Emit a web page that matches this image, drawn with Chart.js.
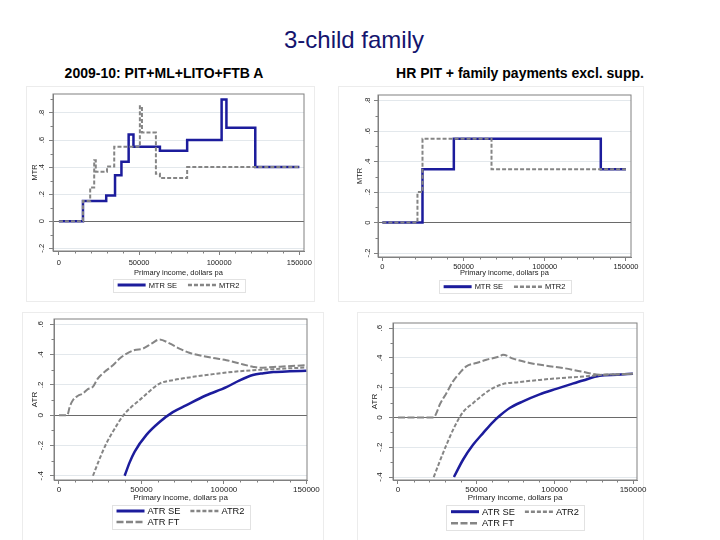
<!DOCTYPE html>
<html>
<head>
<meta charset="utf-8">
<script src="https://cdn.jsdelivr.net/npm/chart.js@4.4.0/dist/chart.umd.min.js"></script>
<style>
  body { margin: 0; background: #fff; font-family: "Liberation Sans", Arial, sans-serif; }
  #page { position: relative; width: 720px; height: 540px; overflow: hidden; background: #fff; }
  .frame { position: absolute; border: 1px solid #ececec; }
  canvas { position: absolute; }
  #title { position: absolute; left: 0; width: 708px; top: 26px; line-height: 28px; text-align: center; font-size: 24px; color: #14146e; }
  .sub { position: absolute; top: 65px; line-height: 16px; font-size: 14px; font-weight: bold; color: #000; text-align: center; width: 320px; }
</style>
</head>
<body>
<div id="page">
  <div id="title">3-child family</div>
  <div class="sub" style="left:4px">2009-10: PIT+ML+LITO+FTB A</div>
  <div class="sub" style="left:360px">HR PIT + family payments excl. supp.</div>
  <div class="frame" style="left:26px;top:86px;width:287px;height:214px"></div>
  <div class="frame" style="left:338px;top:86px;width:304px;height:214px"></div>
  <div class="frame" style="left:22px;top:312px;width:300px;height:230px"></div>
  <div class="frame" style="left:357px;top:312px;width:285px;height:230px"></div>
  <canvas id="mtrA" width="294" height="216" style="left:20px;top:84px"></canvas>
  <canvas id="mtrB" width="304" height="216" style="left:338px;top:84px"></canvas>
  <canvas id="atrA" width="300" height="232" style="left:22px;top:308px"></canvas>
  <canvas id="atrB" width="292" height="232" style="left:355px;top:308px"></canvas>
</div>
<script>
// ---- data: 2009-10 system (left column) ----
// step levels: each rate applies from its income up to the next income
const mtrSeIncomeA = [0, 15000, 29500, 35000, 39000, 43500, 46500, 63000, 80000, 101500, 104500, 122500, 150000];
const mtrSeA = [0, 0.15, 0.19, 0.34, 0.44, 0.64, 0.55, 0.52, 0.60, 0.90, 0.69, 0.40, 0.40];
const mtr2IncomeA = [0, 15000, 19500, 22000, 23000, 30000, 34500, 50500, 51800, 60500, 63000, 80000, 150000];
const mtr2A = [0, 0.15, 0.25, 0.45, 0.365, 0.405, 0.55, 0.85, 0.655, 0.35, 0.32, 0.40, 0.40];

const atrSeIncomeA = [39800, 42900, 45900, 53000, 61000, 69000, 77000, 89000, 101500, 109500, 117500, 124000, 130000, 140000, 150000];
const atrSeA = [-0.40, -0.31, -0.24, -0.13, -0.045, 0.02, 0.065, 0.13, 0.185, 0.23, 0.265, 0.277, 0.285, 0.29, 0.293];
const atr2IncomeA = [20600, 24700, 28700, 33800, 38800, 43900, 48900, 54000, 61000, 69000, 81300, 93400, 105500, 117700, 129800, 150000];
const atr2A = [-0.40, -0.286, -0.187, -0.088, -0.004, 0.055, 0.10, 0.15, 0.209, 0.231, 0.253, 0.271, 0.286, 0.297, 0.304, 0.315];
const atrFtIncomeA = [0, 5000, 6500, 8500, 11500, 14500, 17500, 20500, 23500, 27700, 32700, 36800, 40800, 45900, 51000, 56000, 61000,
  67000, 73000, 79000, 85000, 93000, 101500, 109500, 117500, 121500, 130000, 138000, 150000];
const atrFtA = [0, 0, 0.055, 0.10, 0.128, 0.143, 0.172, 0.187, 0.242, 0.286, 0.33, 0.374, 0.405, 0.43, 0.44, 0.472, 0.50,
  0.474, 0.44, 0.412, 0.396, 0.379, 0.363, 0.341, 0.32, 0.313, 0.318, 0.323, 0.33];

// ---- data: HR PIT + family payments (right column) ----
const mtrSeIncomeB = [0, 24700, 44000, 134500, 150000];
const mtrSeB = [0, 0.35, 0.55, 0.35, 0.35];
const mtr2IncomeB = [0, 21600, 24700, 67200, 150000];
const mtr2B = [0, 0.2, 0.55, 0.35, 0.35];

const atrSeIncomeB = [35700, 41500, 47900, 54300, 60600, 64900, 71300, 79800, 90400, 101000, 110000, 118000, 128700, 140000, 150000];
const atrSeB = [-0.40, -0.284, -0.184, -0.105, -0.031, 0.011, 0.063, 0.108, 0.155, 0.192, 0.222, 0.248, 0.28, 0.287, 0.293];
const atr2IncomeB = [22800, 26600, 30900, 36200, 41500, 47900, 54300, 60600, 67000, 77600, 90400, 101000, 111700, 124500, 128700, 150000];
const atr2B = [-0.40, -0.296, -0.184, -0.06, 0.036, 0.096, 0.152, 0.197, 0.224, 0.238, 0.252, 0.262, 0.27, 0.28, 0.285, 0.293];
const atrFtIncomeB = [0, 22800, 24500, 26600, 30900, 35100, 39400, 43600, 50000, 56400, 64900, 67000, 73400, 84000, 94000,
  105300, 117000, 128700, 140000, 150000];
const atrFtB = [0, 0, 0.029, 0.085, 0.163, 0.242, 0.298, 0.343, 0.365, 0.387, 0.41, 0.421, 0.395, 0.366, 0.348,
  0.332, 0.308, 0.287, 0.289, 0.293];

const xTicks = [0, 50000, 100000, 150000];

const BLUE = '#1c1c9c';
const GREY = '#858585';
Chart.defaults.font.family = '"Liberation Sans", Arial, sans-serif';
Chart.defaults.color = '#222';

const pts = (xs, ys) => xs.map((x, i) => ({ x: x, y: ys[i] }));
const fmtRate = v => Math.abs(v) < 1e-9 ? '0' : (v < 0 ? '-' : '') + Math.abs(v).toFixed(1).replace(/^0/, '');

// plot region outline + minor ticks, Stata style
const stataFrame = {
  id: 'stataFrame',
  afterDraw(chart) {
    const { ctx, chartArea: a, scales: { x, y } } = chart;
    ctx.save();
    ctx.strokeStyle = '#808080';
    ctx.lineWidth = 1;
    ctx.strokeRect(a.left, a.top, a.right - a.left, a.bottom - a.top);
    ctx.beginPath();
    for (let v = 10000; v < 150000; v += 10000) {
      if (v % 50000 === 0) continue;
      const px = Math.round(x.getPixelForValue(v)) + 0.5;
      ctx.moveTo(px, a.bottom);
      ctx.lineTo(px, a.bottom + 2.5);
    }
    for (let k = Math.ceil(y.min * 10); k <= Math.floor(y.max * 10); k++) {
      if (k % 2 === 0) continue;
      const py = Math.round(y.getPixelForValue(k / 10)) + 0.5;
      ctx.moveTo(a.left, py);
      ctx.lineTo(a.left - 2.5, py);
    }
    ctx.stroke();
    ctx.restore();
  }
};

// boxed legend drawn under the x axis title
const boxLegend = {
  id: 'boxLegend',
  afterDraw(chart, args, o) {
    const { ctx, chartArea: a } = chart;
    const ds = chart.data.datasets;
    ctx.save();
    ctx.font = o.size + 'px "Liberation Sans", Arial, sans-serif';
    ctx.textBaseline = 'middle';
    const itemW = i => o.line + 3 + ctx.measureText(ds[i].label).width;
    const nCols = Math.max(...o.rows.map(r => r.length));
    const colW = [];
    for (let c = 0; c < nCols; c++) {
      colW[c] = Math.max(...o.rows.filter(r => r[c] !== undefined).map(r => itemW(r[c])));
    }
    const total = colW.reduce((s, w) => s + w, 0) + o.gap * (nCols - 1);
    const x0 = (a.left + a.right) / 2 - total / 2;
    const y0 = a.bottom + o.offset;
    ctx.strokeStyle = '#e2e2e2';
    ctx.lineWidth = 1;
    ctx.strokeRect(Math.round(x0 - 5) + 0.5, Math.round(y0 - 6.5) + 0.5, Math.round(total + 10), Math.round((o.rows.length - 1) * o.rowGap + 13));
    o.rows.forEach((r, ri) => {
      let x = x0;
      const y = y0 + ri * o.rowGap;
      r.forEach((i, c) => {
        const d = ds[i];
        ctx.strokeStyle = d.borderColor;
        ctx.lineWidth = d.borderWidth + 0.5;
        ctx.setLineDash(d.borderDash || []);
        ctx.beginPath();
        ctx.moveTo(x, y);
        ctx.lineTo(x + o.line, y);
        ctx.stroke();
        ctx.setLineDash([]);
        ctx.fillStyle = '#111';
        ctx.fillText(d.label, x + o.line + 3, y + 0.5);
        x += colW[c] + o.gap;
      });
    });
    ctx.restore();
  }
};

function makeChart(id, datasets, p) {
  return new Chart(document.getElementById(id), {
    type: 'line',
    data: { datasets: datasets },
    plugins: [stataFrame, boxLegend],
    options: {
      responsive: false,
      animation: false,
      events: [],
      layout: { padding: p.pad },
      elements: { point: { radius: 0 } },
      plugins: {
        legend: { display: false },
        tooltip: { enabled: false },
        boxLegend: p.legend
      },
      scales: {
        x: {
          type: 'linear',
          min: p.xMin,
          max: p.xMax,
          afterFit: s => { s.height = p.xH; s.paddingLeft = 0; s.paddingRight = 0; },
          afterBuildTicks: s => { s.ticks = xTicks.map(v => ({ value: v })); },
          border: { color: '#808080' },
          grid: { drawOnChartArea: false, drawTicks: true, tickLength: 4, tickColor: '#808080' },
          ticks: { font: { size: p.tick }, padding: p.xTickPad, maxRotation: 0, autoSkip: false, callback: v => String(v) },
          title: { display: true, text: 'Primary income, dollars pa', font: { size: p.titleSize }, padding: { top: 0, bottom: 0 } }
        },
        y: {
          min: p.yMin,
          max: p.yMax,
          afterFit: s => { s.width = p.yW; s.paddingTop = 0; s.paddingBottom = 0; },
          border: { color: '#808080' },
          grid: {
            color: c => (c.tick && Math.abs(c.tick.value) < 1e-9) ? '#6a6a6a' : '#e3e8ec',
            tickColor: '#808080',
            tickLength: 4
          },
          ticks: {
            stepSize: 0.2, includeBounds: false, autoSkip: false,
            minRotation: 90, maxRotation: 90, crossAlign: 'center',
            font: { size: p.tick }, padding: p.yTickPad, callback: fmtRate
          },
          title: { display: true, text: p.yTitle, font: { size: p.titleSize }, padding: { top: p.yTitlePad, bottom: 0 } }
        }
      }
    }
  });
}

// Chart.js 'before' = jump at the start of the segment, then flat to the next income
const stepSet = (label, xs, ys, color, width, dash, order) => ({
  label: label, data: pts(xs, ys), stepped: 'before', borderColor: color,
  borderWidth: width, borderDash: dash, order: order, fill: false
});
const curveSet = (label, xs, ys, color, width, dash, order) => ({
  label: label, data: pts(xs, ys), cubicInterpolationMode: 'monotone', borderColor: color,
  borderWidth: width, borderDash: dash, order: order, fill: false
});

makeChart('mtrA', [
  stepSet('MTR SE', mtrSeIncomeA, mtrSeA, BLUE, 2.5, [], 2),
  stepSet('MTR2', mtr2IncomeA, mtr2A, GREY, 2, [4, 2], 1)
], {
  pad: { left: 0, right: 10, top: 10, bottom: 23 }, xH: 26, yW: 33,
  xMin: -3700, xMax: 152900, yMin: -0.22, yMax: 0.94,
  tick: 7.5, titleSize: 7.5, xTickPad: 3.2, yTickPad: 3, yTitlePad: 10.5, yTitle: 'MTR',
  legend: { size: 7.5, offset: 34, rowGap: 11, rows: [[0, 1]], line: 28, gap: 11 }
});

makeChart('mtrB', [
  stepSet('MTR SE', mtrSeIncomeB, mtrSeB, BLUE, 2.5, [], 2),
  stepSet('MTR2', mtr2IncomeB, mtr2B, GREY, 2, [4, 2], 1)
], {
  pad: { left: 0, right: 11, top: 11, bottom: 23 }, xH: 20, yW: 40,
  xMin: -2700, xMax: 153100, yMin: -0.226, yMax: 0.837,
  tick: 7.5, titleSize: 7.5, xTickPad: 1.3, yTickPad: 2, yTitlePad: 17.5, yTitle: 'MTR',
  legend: { size: 7.5, offset: 29.7, rowGap: 11, rows: [[0, 1]], line: 28, gap: 11 }
});

makeChart('atrA', [
  curveSet('ATR SE', atrSeIncomeA, atrSeA, BLUE, 2.5, [], 3),
  curveSet('ATR2', atr2IncomeA, atr2A, GREY, 2, [4, 2], 2),
  curveSet('ATR FT', atrFtIncomeA, atrFtA, GREY, 2, [7, 2.5], 1)
], {
  pad: { left: 0, right: 15, top: 11, bottom: 37 }, xH: 23, yW: 32,
  xMin: -3030, xMax: 150360, yMin: -0.428, yMax: 0.635,
  tick: 8, titleSize: 8, xTickPad: 1.2, yTickPad: 4.6, yTitlePad: 8.2, yTitle: 'ATR',
  legend: { size: 9.3, offset: 31, rowGap: 11, rows: [[0, 1], [2]], line: 28, gap: 10 }
});

makeChart('atrB', [
  curveSet('ATR SE', atrSeIncomeB, atrSeB, BLUE, 2.5, [], 3),
  curveSet('ATR2', atr2IncomeB, atr2B, GREY, 2, [4, 2], 2),
  curveSet('ATR FT', atrFtIncomeB, atrFtB, GREY, 2, [7, 2.5], 1)
], {
  pad: { left: 0, right: 10, top: 15, bottom: 37 }, xH: 23, yW: 38,
  xMin: -3190, xMax: 152550, yMin: -0.42, yMax: 0.634,
  tick: 8, titleSize: 8, xTickPad: 1.2, yTickPad: 4.3, yTitlePad: 15.2, yTitle: 'ATR',
  legend: { size: 9.3, offset: 31.7, rowGap: 11.6, rows: [[0, 1], [2]], line: 28, gap: 10 }
});
</script>
</body>
</html>
